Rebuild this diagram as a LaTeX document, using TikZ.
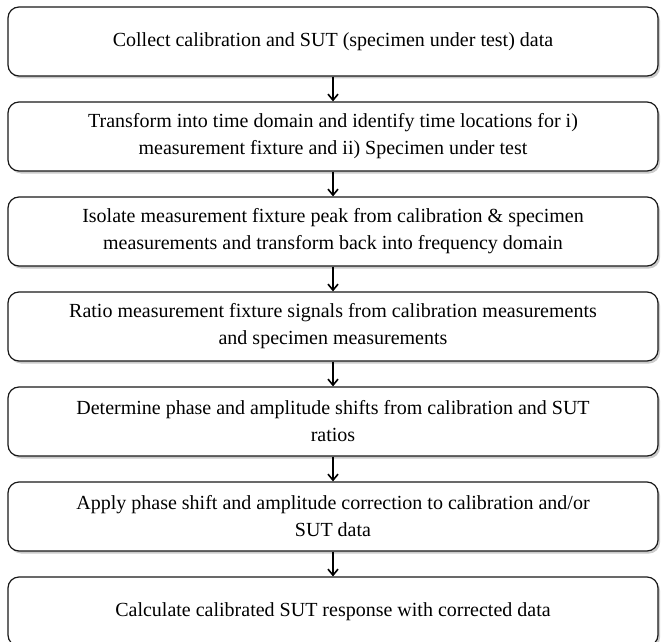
\documentclass[tikz,border=0pt]{standalone}
\usepackage{fontspec}
\setmainfont{Liberation Serif}
\usetikzlibrary{shadows,arrows.meta}
\begin{document}
\begin{tikzpicture}[x=1pt,y=1pt,
  stepbox/.style={draw=black!90, line width=1.2pt, rounded corners=11pt, fill=white,
    minimum width=650pt, minimum height=69pt, align=center, inner sep=0pt,
    font=\fontsize{20}{27}\selectfont,
    drop shadow={shadow xshift=2pt, shadow yshift=-2.5pt, opacity=0.35, fill=black!60}},
  flow/.style={-{Straight Barb[length=6pt,width=10pt,line width=1.6pt]}, line width=1.8pt}]
\useasboundingbox (0,0) rectangle (664,-642);
\node[stepbox] (b1) at (333,-41.5) {Collect calibration and SUT (specimen under test) data};
\node[stepbox] (b2) at (333,-136.5) {Transform into time domain and identify time locations for i)\\measurement fixture and ii) Specimen under test};
\node[stepbox] (b3) at (333,-231.5) {Isolate measurement fixture peak from calibration \& specimen\\measurements and transform back into frequency domain};
\node[stepbox] (b4) at (333,-326.5) {Ratio measurement fixture signals from calibration measurements\\and specimen measurements};
\node[stepbox] (b5) at (333,-421.5) {Determine phase and amplitude shifts from calibration and SUT\\ratios};
\node[stepbox] (b6) at (333,-516.5) {Apply phase shift and amplitude correction to calibration and/or\\SUT data};
\node[stepbox] (b7) at (333,-611.5) {Calculate calibrated SUT response with corrected data};
\draw[flow] (b1) -- (b2);
\draw[flow] (b2) -- (b3);
\draw[flow] (b3) -- (b4);
\draw[flow] (b4) -- (b5);
\draw[flow] (b5) -- (b6);
\draw[flow] (b6) -- (b7);
\end{tikzpicture}
\end{document}
